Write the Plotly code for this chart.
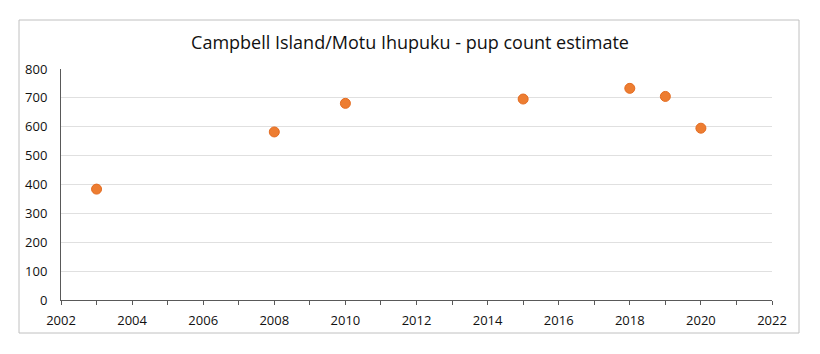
import plotly.graph_objects as go

years = [2003, 2008, 2010, 2015, 2018, 2019, 2020]
pup_counts = [384, 582, 681, 696, 733, 705, 595]
title_text = "Campbell Island/Motu Ihupuku - pup count estimate"

fig = go.Figure()
fig.add_trace(go.Scatter(
    x=years, y=pup_counts, mode="markers",
    marker=dict(color="#ED7D31", size=10, line=dict(color="#E46C21", width=1)),
    showlegend=False,
))

font_family = "Open Sans, sans-serif"
fig.update_layout(
    width=820, height=354,
    margin=dict(l=61, r=48, t=69, b=54),
    paper_bgcolor="white", plot_bgcolor="white",
    title=dict(text=title_text, x=0.5, xanchor="center", y=1 - 43/354, yanchor="middle",
               font=dict(family=font_family, size=18, color="#111111")),
    font=dict(family=font_family, size=13, color="#111111"),
)
fig.update_xaxes(
    range=[2002, 2022], dtick=2, tick0=2002,
    showline=True, linecolor="#595959", linewidth=1,
    ticks="outside", ticklen=4, tickcolor="#595959",
    minor=dict(dtick=1, ticks="outside", ticklen=4, tickcolor="#595959", showgrid=False),
    showgrid=False, zeroline=False, ticklabelstandoff=4,
)
fig.update_yaxes(
    range=[0, 800], dtick=100,
    showline=True, linecolor="#595959", linewidth=1,
    gridcolor="#e0e0e0", gridwidth=1, zeroline=False,
    ticks="", ticklabelstandoff=10,
)
fig.add_shape(type="rect", xref="paper", yref="paper",
              x0=(19 - 61) / 711, x1=(799 - 61) / 711,
              y0=(300 - 333) / 231, y1=(300 - 20) / 231,
              line=dict(color="#c0c0c0", width=1), fillcolor="rgba(0,0,0,0)", layer="below")
fig.write_html("out.html")
